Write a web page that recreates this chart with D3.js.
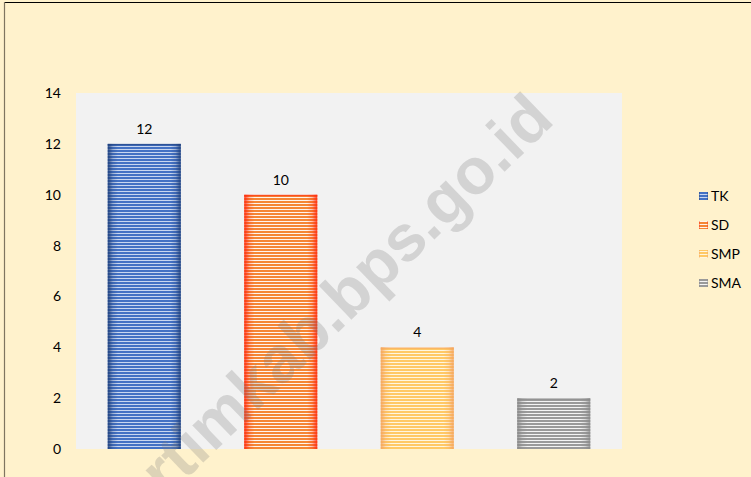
<!DOCTYPE html>
<html><head><meta charset="utf-8">
<script src="https://cdn.jsdelivr.net/npm/d3@7"></script>
<style>
html,body{margin:0;padding:0;background:#fff;}
svg{display:block;}
</style></head>
<body>
<script>
const categories = ["TK","SD","SMP","SMA"];
const values = [12,10,4,2];
const yTicks = [0,2,4,6,8,10,12,14];
const watermark = "ertimkab.bps.go.id";

const W = 751, H = 477;
const svg = d3.select("body").append("svg").attr("width",W).attr("height",H);
const defs = svg.append("defs");

const styles = {
  TK:  {stripe:"#4472C4", light:"#C9D7F0", edge:"#1F3F7A"},
  SD:  {stripe:"#F58634", light:"#FFF4EC", edge:"#FF2A10"},
  SMP: {stripe:"#FFC966", light:"#FFF6E0", edge:"#F4A460"},
  SMA: {stripe:"#9A9A9A", light:"#F4F4F4", edge:"#8A8A8A"}
};
categories.forEach((c,i)=>{
  const s = styles[c];
  const p = defs.append("pattern").attr("id","pat"+i).attr("patternUnits","userSpaceOnUse")
    .attr("width",4).attr("height",3);
  p.append("rect").attr("width",4).attr("height",3).attr("fill",s.light);
  p.append("rect").attr("width",4).attr("height",2).attr("fill",s.stripe);
  const g = defs.append("linearGradient").attr("id","edge"+i).attr("x1","0").attr("x2","1").attr("y1","0").attr("y2","0");
  [[0,0.9],[0.07,0.25],[0.14,0],[0.86,0],[0.93,0.25],[1,0.9]].forEach(([o,a])=>{
    g.append("stop").attr("offset",o).attr("stop-color",s.edge).attr("stop-opacity",a);
  });
});

svg.append("rect").attr("width",W).attr("height",H).attr("fill","#FFF2CC");
svg.append("line").attr("x1",4).attr("x2",W).attr("y1",2.5).attr("y2",2.5).attr("stroke","#000").attr("stroke-width",1.2);
svg.append("line").attr("x1",4.5).attr("x2",4.5).attr("y1",2).attr("y2",H).attr("stroke","#7F7560").attr("stroke-width",1.2);

const plot = {l:76, r:622, t:93, b:449};
svg.append("rect").attr("x",plot.l).attr("y",plot.t).attr("width",plot.r-plot.l).attr("height",plot.b-plot.t).attr("fill","#F2F2F2");

const x = d3.scaleBand().domain(categories).range([plot.l,plot.r]).paddingInner(0.465).paddingOuter(0.2325);
const y = d3.scaleLinear().domain([0,14]).range([plot.b,plot.t]);

const font = "Lato, 'Open Sans', sans-serif";

const yAxis = d3.axisLeft(y).tickValues(yTicks).tickSize(0).tickPadding(0);
const ga = svg.append("g").attr("transform",`translate(${61},0)`).call(yAxis);
ga.select(".domain").remove();
ga.selectAll("text").attr("font-family",font).attr("font-size",14).attr("fill","#000");

const bars = svg.append("g");
categories.forEach((c,i)=>{
  const bx = x(c), bw = x.bandwidth(), by = y(values[i]), bh = y(0)-y(values[i]);
  bars.append("rect").attr("x",bx).attr("y",by).attr("width",bw).attr("height",bh).attr("fill",`url(#pat${i})`);
  bars.append("rect").attr("x",bx).attr("y",by).attr("width",bw).attr("height",bh).attr("fill",`url(#edge${i})`);
  bars.append("rect").attr("x",bx).attr("y",by).attr("width",bw).attr("height",1.5).attr("fill",styles[c].edge).attr("opacity",0.6);
  svg.append("text").attr("x",bx+bw/2).attr("y",by-10).attr("text-anchor","middle")
    .attr("font-family",font).attr("font-size",14).attr("fill","#000").text(values[i]);
});

const lg = svg.append("g");
const legY = [196, 225, 254, 283];
categories.forEach((c,i)=>{
  lg.append("rect").attr("x",699).attr("y",legY[i]-4).attr("width",9).attr("height",8).attr("fill",`url(#pat${i})`);
  lg.append("rect").attr("x",699).attr("y",legY[i]-4).attr("width",9).attr("height",8).attr("fill",`url(#edge${i})`);
  lg.append("text").attr("x",711).attr("y",legY[i]+5).attr("font-family",font).attr("font-size",14).attr("fill","#000").text(c);
});

svg.append("text").attr("transform","translate(556,122) rotate(-44)").attr("text-anchor","end")
  .attr("font-family","'Liberation Sans', Arial, sans-serif").attr("font-weight","bold").attr("font-size",65)
  .attr("fill","#7A7A7A").attr("fill-opacity",0.26).text(watermark);
</script>
</body></html>
